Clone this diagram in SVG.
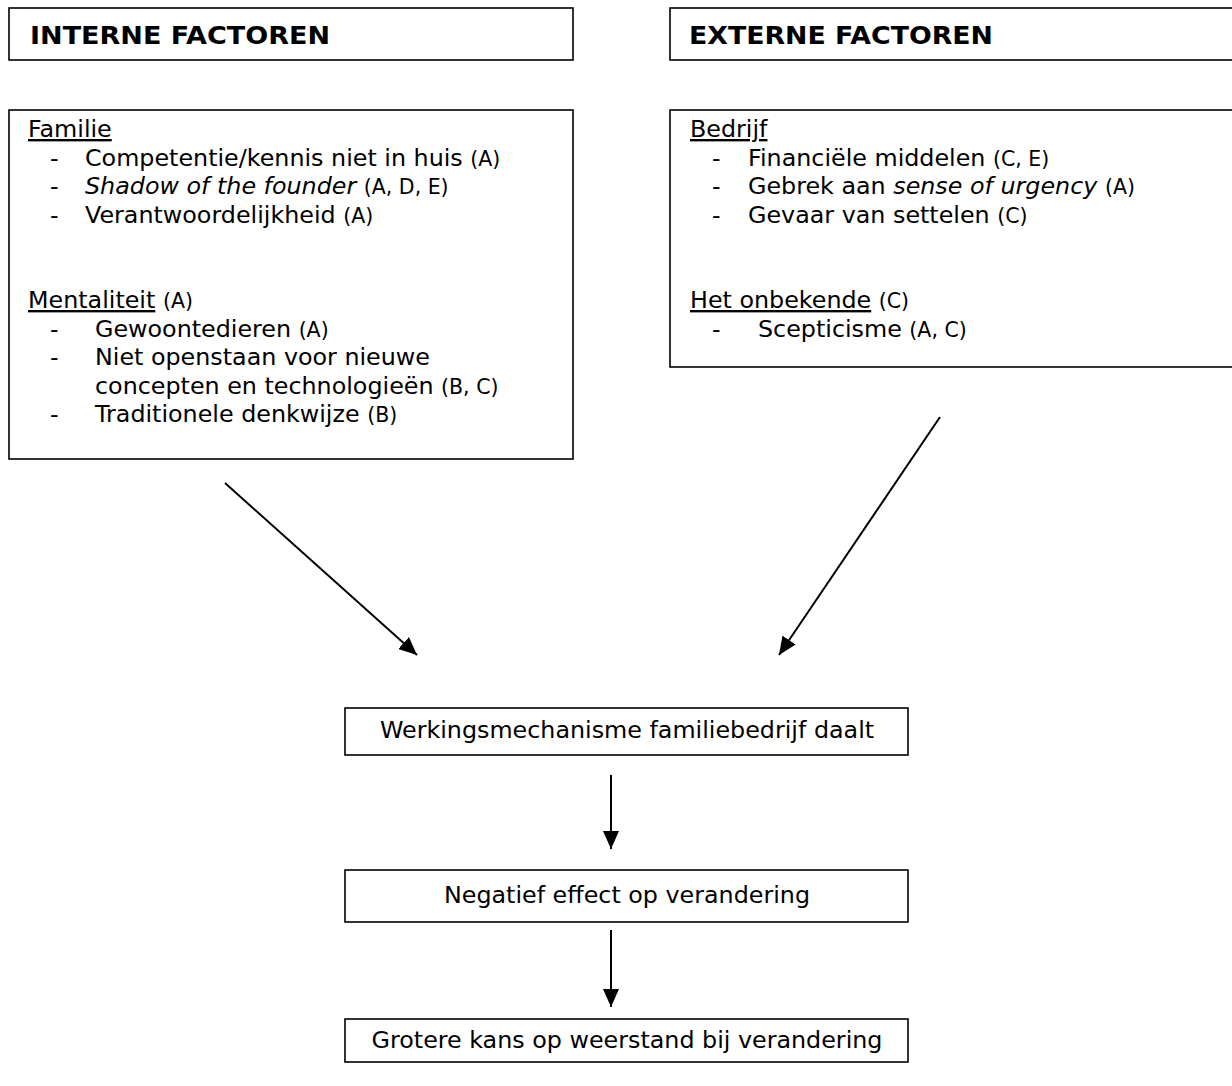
<svg xmlns="http://www.w3.org/2000/svg" width="1232" height="1086" viewBox="0 0 1232 1086">
  <style>
    .box { fill: #ffffff; stroke: #000000; stroke-width: 1.6; }
    .title { font-family: "DejaVu Sans", Verdana, sans-serif; font-weight: bold; font-size: 25px; fill: #000; }
    .txt { font-family: "DejaVu Sans", Verdana, sans-serif; font-size: 23.8px; fill: #000; }
    .ref { font-size: 20.5px; }
    .it { font-style: italic; }
    .ul { text-decoration: underline; }
    .mid { text-anchor: middle; }
    .conn { stroke: #000; stroke-width: 2; fill: none; marker-end: url(#arrow); }
  </style>
  <defs>
    <marker id="arrow" viewBox="0 0 18 16" refX="18" refY="8" markerWidth="18" markerHeight="16" markerUnits="userSpaceOnUse" orient="auto">
      <path d="M0,0 L18,8 L0,16 Z" fill="#000"/>
    </marker>
  </defs>

  <!-- header: internal factors -->
  <g id="header-interne">
    <rect class="box" x="9" y="8" width="564" height="52"/>
    <text class="title" x="30" y="44" textLength="300" lengthAdjust="spacingAndGlyphs">INTERNE FACTOREN</text>
  </g>

  <!-- header: external factors (runs off the right edge) -->
  <g id="header-externe">
    <rect class="box" x="670" y="8" width="600" height="52"/>
    <text class="title" x="689" y="44" textLength="304" lengthAdjust="spacingAndGlyphs">EXTERNE FACTOREN</text>
  </g>

  <!-- internal factors detail -->
  <g id="interne-factoren" class="txt">
    <rect class="box" x="9" y="110" width="564" height="349"/>
    <text x="28" y="137"><tspan class="ul">Familie</tspan></text>
    <text x="50" y="165.5">-</text>
    <text x="85" y="165.5">Competentie/kennis niet in huis <tspan class="ref">(A)</tspan></text>
    <text x="50" y="194">-</text>
    <text x="85" y="194"><tspan class="it">Shadow of the founder</tspan> <tspan class="ref">(A, D, E)</tspan></text>
    <text x="50" y="222.5">-</text>
    <text x="85" y="222.5">Verantwoordelijkheid <tspan class="ref">(A)</tspan></text>

    <text x="28" y="308"><tspan class="ul">Mentaliteit</tspan> <tspan class="ref">(A)</tspan></text>
    <text x="50" y="336.5">-</text>
    <text x="95" y="336.5">Gewoontedieren <tspan class="ref">(A)</tspan></text>
    <text x="50" y="365">-</text>
    <text x="95" y="365">Niet openstaan voor nieuwe</text>
    <text x="95" y="393.5">concepten en technologieën <tspan class="ref">(B, C)</tspan></text>
    <text x="50" y="422">-</text>
    <text x="95" y="422">Traditionele denkwijze <tspan class="ref">(B)</tspan></text>
  </g>

  <!-- external factors detail -->
  <g id="externe-factoren" class="txt">
    <rect class="box" x="670" y="110" width="600" height="257"/>
    <text x="690" y="137"><tspan class="ul">Bedrijf</tspan></text>
    <text x="712" y="165.5">-</text>
    <text x="748" y="165.5">Financiële middelen <tspan class="ref">(C, E)</tspan></text>
    <text x="712" y="194">-</text>
    <text x="748" y="194">Gebrek aan <tspan class="it">sense of urgency</tspan> <tspan class="ref">(A)</tspan></text>
    <text x="712" y="222.5">-</text>
    <text x="748" y="222.5">Gevaar van settelen <tspan class="ref">(C)</tspan></text>

    <text x="690" y="308"><tspan class="ul">Het onbekende</tspan> <tspan class="ref">(C)</tspan></text>
    <text x="712" y="336.5">-</text>
    <text x="758" y="336.5">Scepticisme <tspan class="ref">(A, C)</tspan></text>
  </g>

  <!-- consequence chain -->
  <g id="werkingsmechanisme" class="txt">
    <rect class="box" x="345" y="708" width="563" height="47"/>
    <text class="mid" x="627" y="738">Werkingsmechanisme familiebedrijf daalt</text>
  </g>
  <g id="negatief-effect" class="txt">
    <rect class="box" x="345" y="870" width="563" height="52"/>
    <text class="mid" x="627" y="903">Negatief effect op verandering</text>
  </g>
  <g id="weerstand" class="txt">
    <rect class="box" x="345" y="1019" width="563" height="43"/>
    <text class="mid" x="627" y="1048">Grotere kans op weerstand bij verandering</text>
  </g>

  <!-- connectors -->
  <g id="connectors">
    <line class="conn" x1="225" y1="483" x2="417" y2="655"/>
    <line class="conn" x1="940" y1="417" x2="779" y2="655"/>
    <line class="conn" x1="611" y1="775" x2="611" y2="849"/>
    <line class="conn" x1="611" y1="930" x2="611" y2="1007"/>
  </g>
</svg>
